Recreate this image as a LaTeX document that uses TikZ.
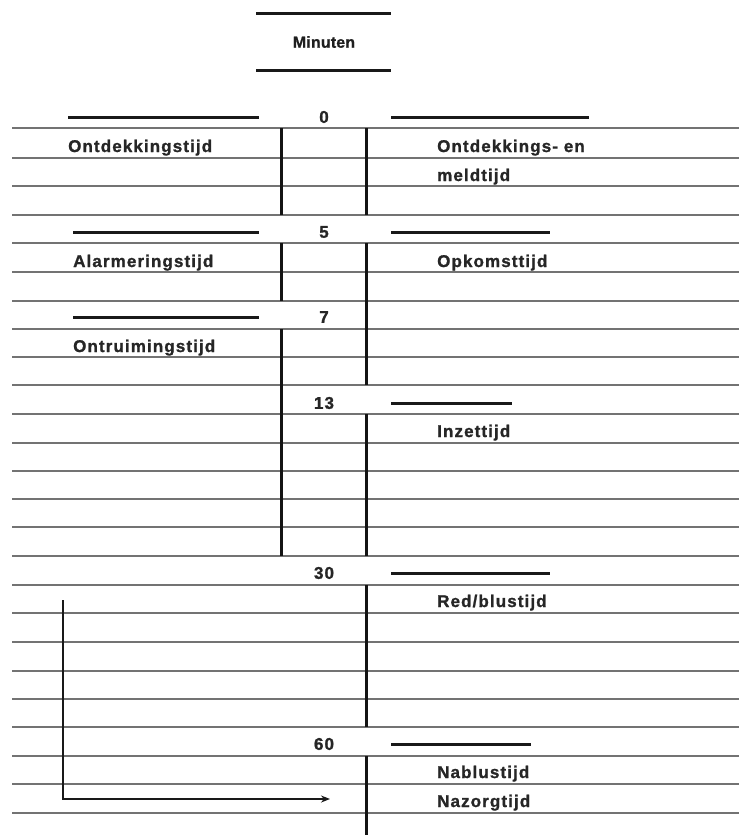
\documentclass[tikz,border=0pt]{standalone}
\usepackage{fontspec}
\setmainfont{Liberation Sans}
\newfontfamily\labfont{Liberation Sans}[LetterSpace=6.5,FakeBold=1.2]
\newfontfamily\minfont{Liberation Sans}[LetterSpace=1,FakeBold=0.8]
\usetikzlibrary{arrows.meta}
\begin{document}
\begin{tikzpicture}[x=1pt,y=-1pt,
  rule/.style={black!55, line width=1.7pt},
  bar/.style={black!90, line width=3pt},
  vline/.style={black!92, line width=3pt},
  lab/.style={anchor=base west, inner sep=0pt, text=black!85,
    font=\labfont\bfseries\fontsize{17}{20}\selectfont},
  num/.style={anchor=center, inner sep=0pt, text=black!85,
    font=\labfont\bfseries\fontsize{17}{20}\selectfont},
  bracket/.style={black!90, line width=2.4pt, -{Stealth[length=9pt,width=7pt]}}]
\useasboundingbox[fill=white] (0,0) rectangle (739,835);

% ruled lines of the form
\foreach \y in {128,158,186,215,243,272,301,329,357,385,414,443,471,499,527,556,585,613,642,671,699,727,756,784,813}
  {\draw[rule] (12,\y) -- (739,\y);}

% heading
\draw[bar] (256,13) -- (391,13);
\node[anchor=center, inner sep=0pt, text=black!88, font=\minfont\bfseries\fontsize{16}{19}\selectfont] (minuten) at (324,42) {Minuten};
\draw[bar] (256,70) -- (391,70);

% time marks
\node[num] (n0) at (324,117) {0};
\node[num] (n5) at (324,232) {5};
\node[num] (n7) at (324,317) {7};
\node[num] (n13) at (324,403) {13};
\node[num] (n30) at (324,573) {30};
\node[num] (n60) at (324,744) {60};

% short bars beside the marks
\draw[bar] (68,117) -- (259,117);
\draw[bar] (391,117) -- (589,117);
\draw[bar] (73,232) -- (259,232);
\draw[bar] (391,232) -- (550,232);
\draw[bar] (73,317) -- (259,317);
\draw[bar] (391,403) -- (512,403);
\draw[bar] (391,573) -- (550,573);
\draw[bar] (391,744) -- (531,744);

% vertical time bars
\draw[vline] (281,128) -- (281,215);
\draw[vline] (281,243) -- (281,301);
\draw[vline] (281,329) -- (281,556);
\draw[vline] (366,128) -- (366,215);
\draw[vline] (366,243) -- (366,385);
\draw[vline] (366,414) -- (366,556);
\draw[vline] (366,585) -- (366,727);
\draw[vline] (366,756) -- (366,835);

% labels
\node[lab] (l1) at (68,152) {Ontdekkingstijd};
\node[lab] (r1) at (437,152) {Ontdekkings- en};
\node[lab] (r1b) at (437,181) {meldtijd};
\node[lab] (l2) at (73,267) {Alarmeringstijd};
\node[lab] (r2) at (437,267) {Opkomsttijd};
\node[lab] (l3) at (73,352) {Ontruimingstijd};
\node[lab] (r3) at (437,437) {Inzettijd};
\node[lab] (r4) at (437,607) {Red/blustijd};
\node[lab] (r5) at (437,778) {Nablustijd};
\node[lab] (r6) at (437,807) {Nazorgtijd};

% bracket arrow
\coordinate (bs) at (63,600);
\coordinate (be) at (330,799);
\draw[bracket] (bs) |- (be);
\end{tikzpicture}
\end{document}
